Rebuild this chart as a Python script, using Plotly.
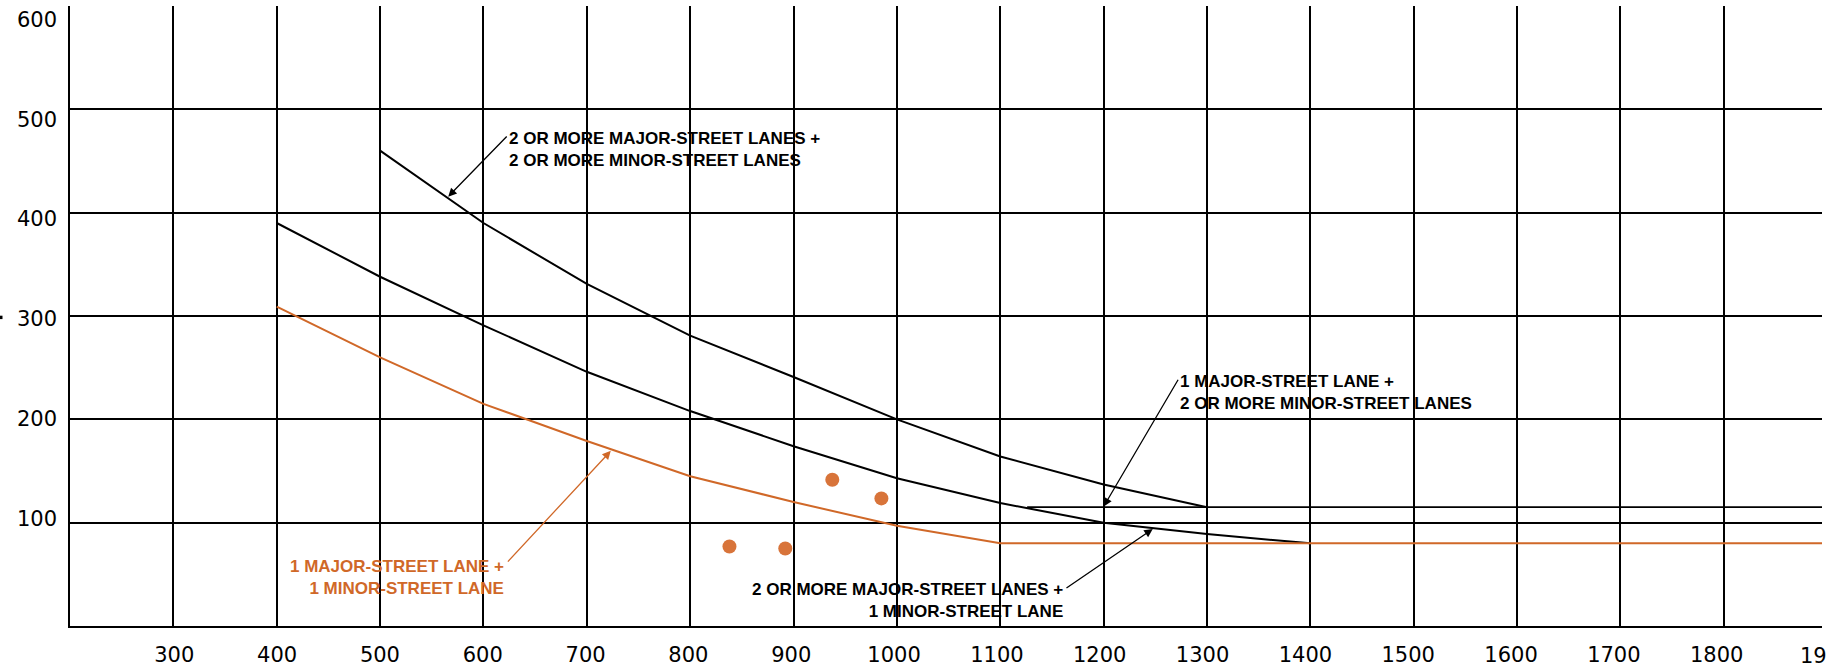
"""Four-hour vehicular volume warrant chart (major vs minor street volumes)."""
import plotly.graph_objects as go

# --- data -----------------------------------------------------------------
# 2 or more major-street lanes + 2 or more minor-street lanes
curve_22_x = [500, 600, 700, 800, 900, 1000, 1100, 1200, 1300]
curve_22_y = [460, 390, 331, 281, 241, 200, 164, 137, 115]

# 2 or more major-street lanes + 1 minor-street lane
curve_21_x = [400, 500, 600, 700, 800, 900, 1000, 1100, 1200, 1300, 1400]
curve_21_y = [390, 338, 291, 246, 208, 174, 143, 119, 100, 89, 80]

# 1 major-street lane + 1 minor-street lane (runs flat at the 80 vph floor)
curve_11_x = [400, 500, 600, 700, 800, 900, 1000, 1100, 1900]
curve_11_y = [309, 260, 215, 179, 145, 120, 97, 80, 80]

# 115 vph floor (1 major-street lane + 2 or more minor-street lanes)
floor_115_x = [1126, 1900]
floor_115_y = [115, 115]

# observed hourly volumes
obs_x = [838, 892, 937.5, 985]
obs_y = [77, 75, 141.5, 123.5]

x_ticks = [300, 400, 500, 600, 700, 800, 900, 1000, 1100, 1200,
           1300, 1400, 1500, 1600, 1700, 1800]
y_ticks = [100, 200, 300, 400, 500, 600]

BLACK = "#000000"
ORANGE = "#D06828"
DOT = "#D8743A"
LABEL_FONT = dict(family="Liberation Sans", size=17, weight="bold")

fig = go.Figure()

fig.add_trace(go.Scatter(x=curve_22_x, y=curve_22_y, mode="lines",
                         line=dict(color=BLACK, width=2)))
fig.add_trace(go.Scatter(x=curve_21_x, y=curve_21_y, mode="lines",
                         line=dict(color=BLACK, width=2)))
fig.add_trace(go.Scatter(x=floor_115_x, y=floor_115_y, mode="lines",
                         line=dict(color=BLACK, width=1.6)))
fig.add_trace(go.Scatter(x=curve_11_x, y=curve_11_y, mode="lines",
                         line=dict(color=ORANGE, width=2)))
fig.add_trace(go.Scatter(x=obs_x, y=obs_y, mode="markers",
                         marker=dict(color=DOT, size=14, line=dict(width=0))))
# empty trace so the label-only overlay axes get drawn
fig.add_trace(go.Scatter(x=[], y=[], xaxis="x2", yaxis="y2"))

# --- curve labels -----------------------------------------------------------
labels = [
    ("2 OR MORE MAJOR-STREET LANES +<br>2 OR MORE MINOR-STREET LANES",
     622.9, 461.3, "left", BLACK),
    ("1 MAJOR-STREET LANE +<br>1 MINOR-STREET LANE",
     621.7, 47.2, "right", ORANGE),
    ("1 MAJOR-STREET LANE +<br>2 OR MORE MINOR-STREET LANES",
     1272, 226.4, "left", BLACK),
    ("2 OR MORE MAJOR-STREET LANES +<br>1 MINOR-STREET LANE",
     1162.6, 24.3, "right", BLACK),
]
for text, x, y, side, color in labels:
    fig.add_annotation(x=x, y=y, text=text, showarrow=False,
                       xanchor=side, yanchor="middle", align=side,
                       font=dict(LABEL_FONT, color=color))

# leader arrows: (head x, head y, tail x, tail y, colour)
arrows = [
    (565.9, 415.5, 623.9, 475.2, BLACK),
    (723.2, 169.5, 622.3, 60.9, ORANGE),
    (1200.1, 115.7, 1272.9, 239.8, BLACK),
    (1247.5, 93.8, 1162.6, 35.8, BLACK),
]
for hx, hy, tx, ty, color in arrows:
    fig.add_annotation(x=hx, y=hy, ax=tx, ay=ty, axref="x", ayref="y",
                       text="", showarrow=True, arrowhead=2, arrowsize=1.3,
                       arrowwidth=1.3, arrowcolor=color, standoff=0)

# cut-off tick label at the right edge of the drawing
fig.add_annotation(x=0.9863, y=-0.048, xref="paper", yref="paper",
                   text="19", showarrow=False, xanchor="left",
                   yanchor="middle",
                   font=dict(family="DejaVu Sans", size=21, color=BLACK))

# stray fragment of the clipped axis title at the far left
fig.add_shape(type="rect", xref="paper", yref="y",
              x0=-70 / 1752, x1=-67.5 / 1752, y0=297, y1=300.3,
              fillcolor=BLACK, line=dict(width=0))

grid = dict(showgrid=True, gridcolor=BLACK, gridwidth=1.8, dtick=100,
            tick0=0, showticklabels=False, zeroline=False,
            showline=True, linecolor=BLACK, linewidth=2.2, mirror=False,
            ticks="", automargin=False)
tick_font = dict(family="DejaVu Sans", size=21, color=BLACK)

fig.update_layout(
    width=1839, height=670,
    margin=dict(l=70, r=17, t=6, b=44),
    paper_bgcolor="white", plot_bgcolor="white",
    showlegend=False,
    xaxis=dict(grid, range=[200, 1895]),
    yaxis=dict(grid, range=[0, 600]),
    # label axes: the drawing's numbers sit slightly off its grid lines
    xaxis2=dict(overlaying="x", anchor="y2", side="bottom",
                range=[198.6, 1902.4], tickvals=x_ticks,
                showgrid=False, zeroline=False, showline=False, ticks="",
                tickfont=tick_font, ticklabelstandoff=14, automargin=False),
    yaxis2=dict(overlaying="y", anchor="x2", side="left",
                range=[-8.1, 613.6], tickvals=y_ticks,
                showgrid=False, zeroline=False, showline=False, ticks="",
                tickfont=tick_font, ticklabelstandoff=12, automargin=False),
)

# the page's default 8px body margin would push the figure off the window
fig.write_html(
    "out.html",
    config={"displayModeBar": False},
    post_script="document.body.style.margin='0';"
                "document.body.style.overflow='hidden';",
)
